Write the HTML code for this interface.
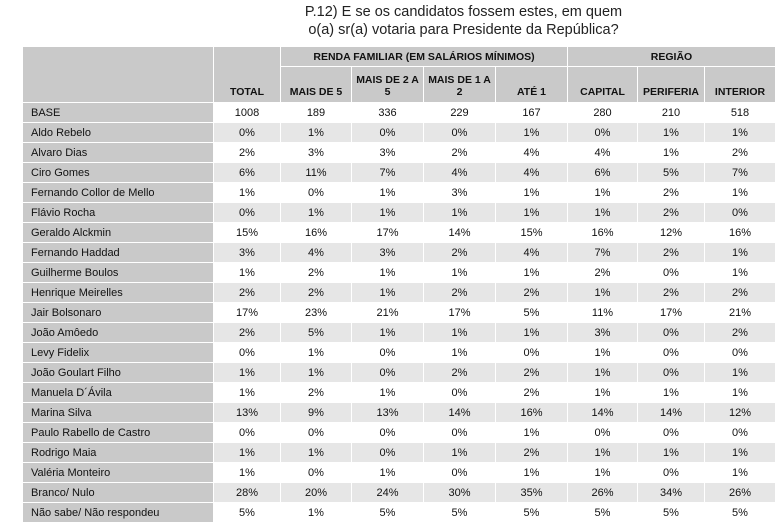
<!DOCTYPE html>
<html><head><meta charset="utf-8"><style>
body{margin:0;width:777px;height:531px;background:#fff;font-family:"Liberation Sans",Arial,sans-serif;position:relative;overflow:hidden}
.title{position:absolute;left:0;width:777px;top:3px;text-align:center;font-size:14.5px;line-height:18px;color:#222;padding-left:150px;box-sizing:border-box}
table{position:absolute;left:22px;top:46px;border-collapse:collapse;table-layout:fixed}
td,th{padding:0;font-size:11px;color:#111;text-align:center;border:1px solid #fff;height:19px;white-space:nowrap}
th{background:#c9c9c9;font-weight:bold;font-size:10.5px;line-height:12px}
td.l{background:#c9c9c9;text-align:left;padding-left:8px}
tr.g td{background:#e6e6e6}
tr.g td.l,tr.w td.l{background:#c9c9c9}
tr.w td{background:#fff}
</style></head><body>
<div class="title">P.12) E se os candidatos fossem estes, em quem<br>o(a) sr(a) votaria para Presidente da República?</div>
<table id="t">
<colgroup><col style="width:191px"><col style="width:67px"><col style="width:71px"><col style="width:72px"><col style="width:72px"><col style="width:72px"><col style="width:70px"><col style="width:67px"><col style="width:71px"></colgroup>
<thead>
<tr style="height:18px"><th rowspan="2"></th><th rowspan="2" style="vertical-align:bottom;padding-bottom:4px">TOTAL</th><th colspan="4" style="height:17px">RENDA FAMILIAR (EM SALÁRIOS MÍNIMOS)</th><th colspan="3">REGIÃO</th></tr>
<tr style="height:36px" id="hdr"></tr>
</thead>
<tbody id="tb"></tbody>
</table>
<script>
const subHeaders=["MAIS DE 5","MAIS DE 2 A 5","MAIS DE 1 A 2","ATÉ 1","CAPITAL","PERIFERIA","INTERIOR"];
const labels=["BASE","Aldo Rebelo","Alvaro Dias","Ciro Gomes","Fernando Collor de Mello","Flávio Rocha","Geraldo Alckmin","Fernando Haddad","Guilherme Boulos","Henrique Meirelles","Jair Bolsonaro","João Amôedo","Levy Fidelix","João Goulart Filho","Manuela D´Ávila","Marina Silva","Paulo Rabello de Castro","Rodrigo Maia","Valéria Monteiro","Branco/ Nulo","Não sabe/ Não respondeu"];
const values=[
["1008","189","336","229","167","280","210","518"],
["0%","1%","0%","0%","1%","0%","1%","1%"],
["2%","3%","3%","2%","4%","4%","1%","2%"],
["6%","11%","7%","4%","4%","6%","5%","7%"],
["1%","0%","1%","3%","1%","1%","2%","1%"],
["0%","1%","1%","1%","1%","1%","2%","0%"],
["15%","16%","17%","14%","15%","16%","12%","16%"],
["3%","4%","3%","2%","4%","7%","2%","1%"],
["1%","2%","1%","1%","1%","2%","0%","1%"],
["2%","2%","1%","2%","2%","1%","2%","2%"],
["17%","23%","21%","17%","5%","11%","17%","21%"],
["2%","5%","1%","1%","1%","3%","0%","2%"],
["0%","1%","0%","1%","0%","1%","0%","0%"],
["1%","1%","0%","2%","2%","1%","0%","1%"],
["1%","2%","1%","0%","2%","1%","1%","1%"],
["13%","9%","13%","14%","16%","14%","14%","12%"],
["0%","0%","0%","0%","1%","0%","0%","0%"],
["1%","1%","0%","1%","2%","1%","1%","1%"],
["1%","0%","1%","0%","1%","1%","0%","1%"],
["28%","20%","24%","30%","35%","26%","34%","26%"],
["5%","1%","5%","5%","5%","5%","5%","5%"]];
const hdr=document.getElementById('hdr');
subHeaders.forEach((h,i)=>{const th=document.createElement('th');


th.style.verticalAlign='bottom';th.style.paddingBottom='4px';th.textContent=h;
if(h.length>9&&h.indexOf('MAIS')===0){th.innerHTML=h.replace(/ A /,' A<br>');}
hdr.appendChild(th);});
const tb=document.getElementById('tb');
labels.forEach((lab,r)=>{const tr=document.createElement('tr');tr.className=r%2?'g':'w';


const td=document.createElement('td');td.className='l';td.textContent=lab;


tr.appendChild(td);
values[r].forEach(v=>{const c=document.createElement('td');c.textContent=v;


tr.appendChild(c);});
tb.appendChild(tr);});
</script>
</body></html>
